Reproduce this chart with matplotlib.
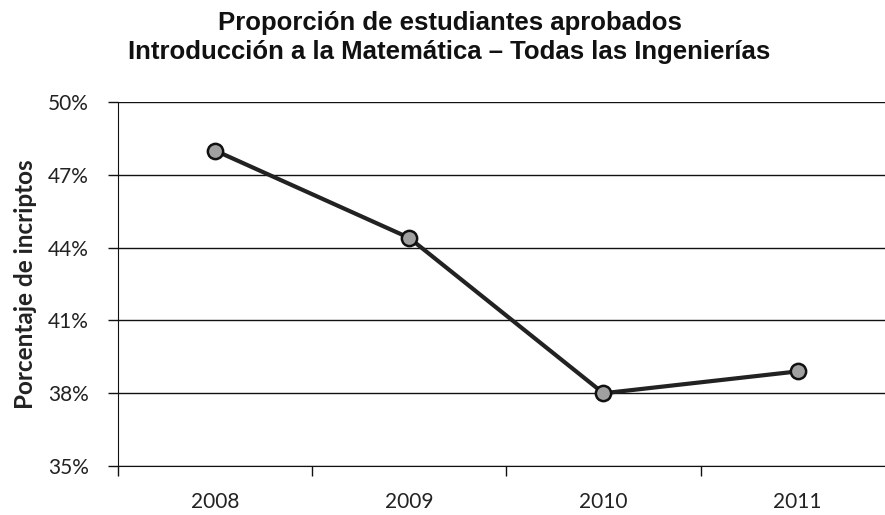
import numpy as np
import matplotlib.pyplot as plt
from matplotlib.ticker import FuncFormatter

years = ['2008', '2009', '2010', '2011']
aprobados = [48.0, 44.4, 38.0, 38.9]
y_ticks = [35, 38, 41, 44, 47, 50]

fig = plt.figure(figsize=(8.85, 5.15), dpi=100)
ax = fig.add_axes([0.1333, 0.095, 0.8667, 0.707])

x = np.arange(len(years))
ax.plot(x, aprobados, color='#222222', lw=3.0, zorder=3,
        marker='o', markersize=11, markerfacecolor='#a0a0a0',
        markeredgecolor='#111111', markeredgewidth=1.8)

ax.set_ylim(35, 50)
ax.set_yticks(y_ticks)
ax.yaxis.set_major_formatter(FuncFormatter(lambda v, p: '%d%%' % v))
ax.grid(axis='y', color='#111111', lw=1.0)
ax.set_axisbelow(True)

# category boundaries carry the ticks, labels sit in the middle
ax.set_xlim(-0.5, 3.45)
ax.set_xticks(x - 0.5)
ax.set_xticklabels([])
ax.set_xticks(x, minor=True)
ax.set_xticklabels(years, minor=True)
ax.tick_params(axis='x', which='major', length=7, width=1, color='#111111')
ax.tick_params(axis='x', which='minor', length=0, pad=19)
ax.tick_params(axis='y', length=7, width=1, color='#111111', pad=14)

for lab in ax.get_xticklabels(minor=True) + ax.get_yticklabels():
    lab.set_fontfamily('Lato')
    lab.set_fontsize(15)
    lab.set_color('#222222')

for s in ['top', 'right']:
    ax.spines[s].set_visible(False)
ax.spines['left'].set_color('#111111')
ax.spines['bottom'].set_color('#111111')

ax.set_ylabel('Porcentaje de incriptos', fontfamily='Lato', fontweight='bold',
              fontsize=17.5, color='#222222', labelpad=8)

fig.text(0.508, 0.955, 'Proporción de estudiantes aprobados',
         ha='center', va='center', fontfamily='Liberation Sans',
         fontweight='bold', fontsize=18.5, color='#111111')
fig.text(0.508, 0.900, 'Introducción a la Matemática – Todas las Ingenierías',
         ha='center', va='center', fontfamily='Liberation Sans',
         fontweight='bold', fontsize=18.5, color='#111111')

fig.savefig('out.png', dpi=100)
